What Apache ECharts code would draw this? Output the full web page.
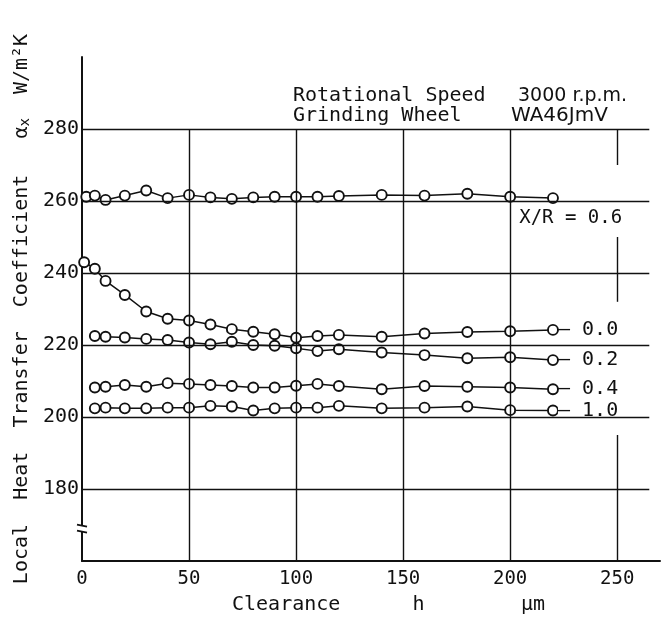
<!DOCTYPE html>
<html><head><meta charset="utf-8">
<script src="https://cdn.jsdelivr.net/npm/echarts@6/dist/echarts.min.js"></script>
<style>html,body{margin:0;padding:0;background:#fff}#c{width:665px;height:622px}</style>
</head><body><div id="c"></div>
<script>
// Clearance h (µm) for each series
const h06 = [2, 6, 11, 20, 30, 40, 50, 60, 70, 80, 90, 100, 110, 120, 140, 160, 180, 200, 220];
const h00 = [1, 6, 11, 20, 30, 40, 50, 60, 70, 80, 90, 100, 110, 120, 140, 160, 180, 200, 220];
const hRest = [6, 11, 20, 30, 40, 50, 60, 70, 80, 90, 100, 110, 120, 140, 160, 180, 200, 220];
// Local heat transfer coefficient (W/m^2K)
const v06 = [261.2, 261.5, 260.3, 261.5, 262.9, 260.8, 261.7, 261.0, 260.6, 261.0, 261.2, 261.2, 261.2, 261.4, 261.7, 261.5, 262.0, 261.2, 260.8];
const v00 = [243.0, 241.2, 237.8, 233.9, 229.3, 227.3, 226.8, 225.7, 224.4, 223.7, 223.0, 222.0, 222.5, 222.8, 222.3, 223.2, 223.6, 223.8, 224.2];
const v02 = [222.5, 222.3, 222.1, 221.7, 221.4, 220.7, 220.2, 220.9, 220.0, 219.8, 219.1, 218.3, 218.8, 217.9, 217.2, 216.3, 216.6, 215.8];
const v04 = [208.2, 208.4, 208.9, 208.4, 209.4, 209.2, 208.9, 208.6, 208.2, 208.2, 208.7, 209.2, 208.6, 207.7, 208.6, 208.4, 208.2, 207.7];
const v10 = [202.4, 202.6, 202.4, 202.4, 202.6, 202.6, 203.1, 202.9, 201.8, 202.4, 202.6, 202.6, 203.1, 202.4, 202.6, 202.9, 201.9, 201.8];
const seriesNames = ['0.6', '0.0', '0.2', '0.4', '1.0'];
const xTicks = [0, 50, 100, 150, 200, 250];
const yTicks = [180, 200, 220, 240, 260, 280];

const MONO = '"DejaVu Sans Mono", monospace';
const INK = '#111';
const zip = (a, b) => a.map((x, i) => [x, b[i]]);

const chart = echarts.init(document.getElementById('c'));

const gridLines = [];
yTicks.forEach(v => gridLines.push([{coord: [0, v]}, {coord: [265, v]}]));
xTicks.filter(x => x > 0 && x < 250).forEach(x => gridLines.push([{coord: [x, 160]}, {coord: [x, 280]}]));
gridLines.push([{coord: [250, 280]}, {coord: [250, 270]}]);
gridLines.push([{coord: [250, 250]}, {coord: [250, 232]}]);
gridLines.push([{coord: [250, 195]}, {coord: [250, 160]}]);

function dataSeries(name, hs, vs, endText, extra) {
  return Object.assign({
    name: name,
    type: 'line',
    z: 3,
    data: zip(hs, vs),
    symbol: 'circle',
    symbolSize: 10,
    showSymbol: true,
    itemStyle: {color: '#fff', borderColor: INK, borderWidth: 1.9},
    lineStyle: {color: INK, width: 1.5},
    emphasis: {disabled: true},
    animation: false,
    endLabel: endText ? {
      show: true, formatter: endText, distance: 5,
      fontFamily: MONO, fontSize: 20, color: INK
    } : undefined
  }, extra || {});
}

const option = {
  backgroundColor: '#fff',
  animation: false,
  grid: {left: 82, right: 5, top: 57, bottom: 61, containLabel: false},
  xAxis: {
    type: 'value', min: 0, max: 270, interval: 50,
    axisLine: {show: true, onZero: false, lineStyle: {color: INK, width: 2}},
    axisTick: {show: false},
    splitLine: {show: false},
    axisLabel: {
      showMaxLabel: false, margin: 9,
      fontFamily: MONO, fontSize: 19, color: INK,
      formatter: v => (xTicks.includes(v) ? String(v) : '')
    }
  },
  yAxis: {
    type: 'value', min: 160, max: 300, interval: 20,
    axisLine: {show: true, onZero: false, lineStyle: {color: INK, width: 2}},
    axisTick: {show: false},
    splitLine: {show: false},
    axisLabel: {
      margin: 3, fontFamily: MONO, fontSize: 20, color: INK,
      formatter: v => (yTicks.includes(v) ? String(v) : '')
    },
    name: '{t|Local  Heat  Transfer  Coefficient   α}{s|x}{t|  W/m²K}',
    nameLocation: 'middle',
    nameGap: 43,
    nameTextStyle: {
      rich: {
        t: {fontFamily: MONO, fontSize: 20, color: INK, verticalAlign: 'bottom'},
        s: {fontFamily: MONO, fontSize: 14, color: INK, verticalAlign: 'bottom'}
      }
    }
  },
  series: [
    {
      type: 'line', z: 1, data: [], silent: true,
      markLine: {
        silent: true, symbol: ['none', 'none'], animation: false,
        label: {show: false},
        lineStyle: {color: INK, width: 1.4, type: 'solid'},
        emphasis: {disabled: true},
        data: gridLines
      }
    },
    dataSeries(seriesNames[0], h06, v06, null, {
      markPoint: {
        symbol: 'circle', symbolSize: 1, silent: true, animation: false,
        itemStyle: {color: 'rgba(0,0,0,0)'},
        label: {show: true, position: 'right', distance: 0, formatter: 'X/R = 0.6',
                fontFamily: MONO, fontSize: 19, color: INK},
        data: [{coord: [204, 255.3]}]
      }
    }),
    dataSeries(seriesNames[1], h00, v00, '– 0.0'),
    dataSeries(seriesNames[2], hRest, v02, '– 0.2'),
    dataSeries(seriesNames[3], hRest, v04, '– 0.4'),
    dataSeries(seriesNames[4], hRest, v10, '– 1.0', {})
  ]
};
option.series[5].endLabel.backgroundColor = '#fff';
option.series[5].endLabel.padding = [0, 10, 0, 0];

chart.setOption(option);

const bp = chart.convertToPixel({gridIndex: 0}, [0, 169]);
chart.setOption({
  graphic: [
    {type: 'rect', shape: {x: bp[0] - 6, y: bp[1] - 3, width: 12, height: 6}, style: {fill: '#fff'}, z: 50},
    {type: 'line', shape: {x1: bp[0] - 5, y1: bp[1] - 4, x2: bp[0] + 5, y2: bp[1] - 2}, style: {stroke: INK, lineWidth: 1.6}, z: 51},
    {type: 'line', shape: {x1: bp[0] - 5, y1: bp[1] + 2, x2: bp[0] + 5, y2: bp[1] + 4}, style: {stroke: INK, lineWidth: 1.6}, z: 51},
    {type: 'text', x: 293, y: 96, style: {text: 'Rotational Speed', font: '20px ' + MONO, fill: INK, verticalAlign: 'middle'}, z: 60},
    {type: 'text', x: 518, y: 96, style: {text: '3000 r.p.m.', font: '19px "DejaVu Sans"', fill: INK, verticalAlign: 'middle'}, z: 60},
    {type: 'text', x: 293, y: 116, style: {text: 'Grinding Wheel', font: '20px ' + MONO, fill: INK, verticalAlign: 'middle'}, z: 60},
    {type: 'text', x: 511, y: 116, style: {text: 'WA46JmV', font: '20px "DejaVu Sans"', fill: INK, verticalAlign: 'middle'}, z: 60},
    {type: 'text', x: 232, y: 605, style: {text: 'Clearance      h        μm', font: '20px ' + MONO, fill: INK, verticalAlign: 'middle'}, z: 60}
  ]
});
</script>
</body></html>
